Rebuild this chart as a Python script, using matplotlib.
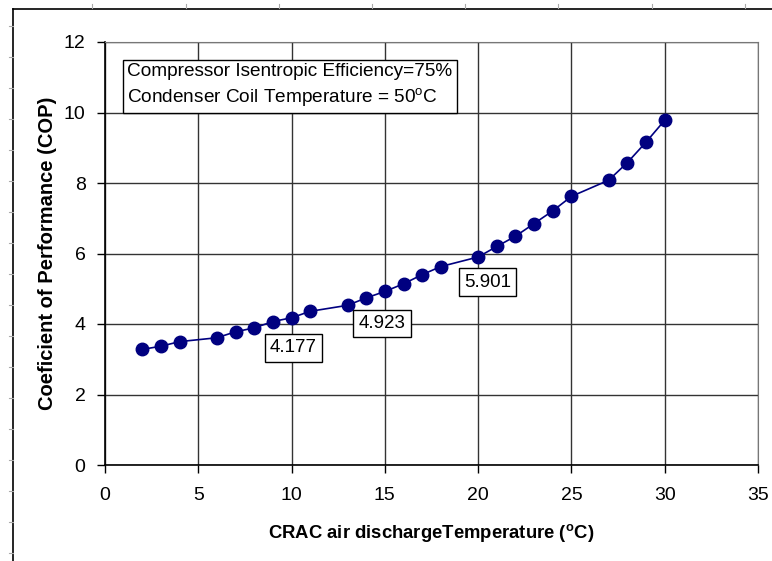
import matplotlib
matplotlib.use('Agg')
import matplotlib.pyplot as plt
from matplotlib.lines import Line2D

plt.rcParams['font.family'] = ['Liberation Sans', 'DejaVu Sans']
plt.rcParams['mathtext.fontset'] = 'custom'
plt.rcParams['mathtext.rm'] = 'Liberation Sans'
plt.rcParams['mathtext.it'] = 'Liberation Sans'
plt.rcParams['mathtext.bf'] = 'Liberation Sans:bold'

# CRAC discharge temperature (C) and the COP
temp = [2, 3, 4, 6, 7, 8, 9, 10, 11, 13, 14, 15, 16, 17, 18,
        20, 21, 22, 23, 24, 25, 27, 28, 29, 30]
cop = [3.28, 3.37, 3.50, 3.61, 3.78, 3.89, 4.07, 4.177, 4.36, 4.53, 4.74, 4.923,
       5.14, 5.40, 5.63, 5.901, 6.20, 6.49, 6.85, 7.21, 7.62, 8.08, 8.58, 9.16, 9.78]

# points that carry a value label, and where the label box sits
label_x = [10, 15, 20]
label_pos = [(10.1, 3.32), (14.85, 4.02), (20.5, 5.19)]

x_ticks = [0, 5, 10, 15, 20, 25, 30, 35]
y_ticks = [0, 2, 4, 6, 8, 10, 12]

fig = plt.figure(figsize=(7.72, 5.61), dpi=100)
ax = fig.add_axes([105 / 772, 1 - 465 / 561, 653 / 772, 423 / 561])

ax.plot(temp, cop, color='#000080', lw=1.2, marker='o', ms=9,
        markerfacecolor='#000080', markeredgecolor='#000080', zorder=3)

for xv, (lx, ly) in zip(label_x, label_pos):
    val = cop[temp.index(xv)]
    ax.text(lx, ly, f'{val:.3f}', fontsize=13.5, ha='center', va='center',
            bbox=dict(boxstyle='square,pad=0.28', fc='white', ec='black', lw=1), zorder=4)

ax.text(1.2, 10.76,
        'Compressor Isentropic Efficiency=75%\nCondenser Coil Temperature = 50$^{\\mathrm{o}}$C',
        fontsize=13.7, ha='left', va='center', linespacing=1.4,
        bbox=dict(boxstyle='square,pad=0.25', fc='white', ec='black', lw=1), zorder=5)

ax.set_xlim(0, 35)
ax.set_ylim(0, 12)
ax.set_xticks(x_ticks)
ax.set_yticks(y_ticks)
ax.tick_params(direction='out', length=6, width=1, labelsize=14, color='black')
ax.tick_params(axis='x', pad=10)
ax.tick_params(axis='y', pad=8)
ax.grid(True, color='#333333', lw=1)
ax.set_axisbelow(True)
for s in ['top', 'right']:
    ax.spines[s].set_color('#777777')
for s in ['left', 'bottom']:
    ax.spines[s].set_color('black')
    ax.spines[s].set_linewidth(1.2)

ax.set_xlabel('CRAC air dischargeTemperature ($\\mathbf{^{o}}$C)', fontsize=13.3,
              fontweight='bold', labelpad=13)
ax.set_ylabel('Coeficient of Performance (COP)', fontsize=14.5, fontweight='bold', labelpad=5)

# page frame from the scanned document
fig.add_artist(Line2D([13 / 772, 13 / 772], [0, 1 - 9 / 561], transform=fig.transFigure,
                      color='black', lw=1.2))
fig.add_artist(Line2D([13 / 772, 1], [1 - 9 / 561, 1 - 9 / 561], transform=fig.transFigure,
                      color='black', lw=1.2))
for px in [92, 186, 279, 372, 465, 558, 652, 745]:
    fig.add_artist(Line2D([px / 772, px / 772], [1 - 8 / 561, 1 - 4 / 561],
                          transform=fig.transFigure, color='#aaaaaa', lw=0.8))
for py in range(26, 561, 31):
    fig.add_artist(Line2D([9 / 772, 13 / 772], [1 - py / 561, 1 - py / 561],
                          transform=fig.transFigure, color='#aaaaaa', lw=0.8))

fig.savefig('out.png', dpi=100)
